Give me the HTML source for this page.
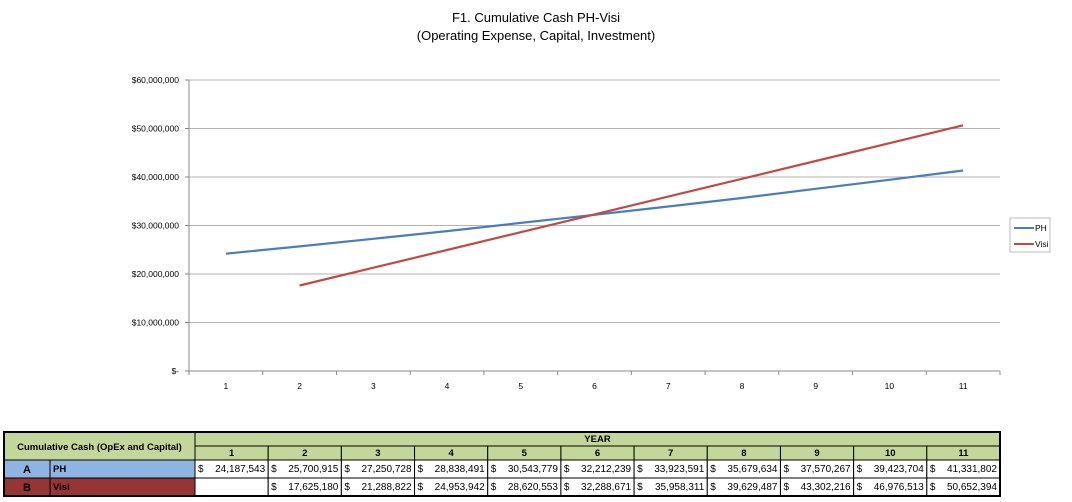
<!DOCTYPE html>
<html><head><meta charset="utf-8"><style>
body{margin:0;background:#fff;}
svg{display:block;font-family:"Liberation Sans",sans-serif;}
</style></head><body>
<svg id="s" width="1072" height="502">
<text x="536" y="22" text-anchor="middle" font-size="13" fill="#000">F1. Cumulative Cash PH-Visi</text>
<text x="536" y="40" text-anchor="middle" font-size="13" fill="#000">(Operating Expense, Capital, Investment)</text>
<g id="grid"></g><g id="axes"></g><g id="lines"></g>
<g>
<rect x="1010" y="218" width="40" height="34" fill="#fff" stroke="#bbb"/>
<line x1="1014" y1="228" x2="1034" y2="228" stroke="#4a7ebb" stroke-width="2"/>
<text x="1035" y="231" font-size="8.5">PH</text>
<line x1="1014" y1="244" x2="1034" y2="244" stroke="#be4b48" stroke-width="2"/>
<text x="1035" y="247" font-size="8.5">Visi</text>
</g>
<g id="table"></g>
</svg>
<script>
const years=[1,2,3,4,5,6,7,8,9,10,11];
const yTicks=[0,10000000,20000000,30000000,40000000,50000000,60000000];
const yTickLabels=["$-","$10,000,000","$20,000,000","$30,000,000","$40,000,000","$50,000,000","$60,000,000"];
const ph=[24187543,25700915,27250728,28838491,30543779,32212239,33923591,35679634,37570267,39423704,41331802];
const visi=[null,17625180,21288822,24953942,28620553,32288671,35958311,39629487,43302216,46976513,50652394];
const phLabels=["24,187,543","25,700,915","27,250,728","28,838,491","30,543,779","32,212,239","33,923,591","35,679,634","37,570,267","39,423,704","41,331,802"];
const visiLabels=["","17,625,180","21,288,822","24,953,942","28,620,553","32,288,671","35,958,311","39,629,487","43,302,216","46,976,513","50,652,394"];
const NS="http://www.w3.org/2000/svg";
const X0=189,X1=1000,Y0=371,Y1=80;
const cw=(X1-X0)/years.length;
const xS=i=>X0+cw*(i+0.5);
const yS=v=>Y0-(v/60000000)*(Y0-Y1);
function mk(t,a,p,txt){const e=document.createElementNS(NS,t);for(const k in a)e.setAttribute(k,a[k]);if(txt!==undefined)e.textContent=txt;p.appendChild(e);return e;}
const grid=document.getElementById('grid'),axes=document.getElementById('axes'),lines=document.getElementById('lines'),tb=document.getElementById('table');
yTicks.forEach((v,i)=>{const y=yS(v);
 if(v>0){const l=mk('line',{x1:X0,y1:y,x2:X1,y2:y,stroke:'#b3b3b3','stroke-width':1},grid);
 
 }
 mk('line',{x1:X0-4,y1:y,x2:X0,y2:y,stroke:'#888'},axes);
 const t=mk('text',{x:X0-10,y:y+3,'text-anchor':'end','font-size':8.5},axes,yTickLabels[i]);
 
 
});
mk('line',{x1:X0,y1:Y1,x2:X0,y2:Y0,stroke:'#888'},axes);
mk('line',{x1:X0,y1:Y0,x2:X1,y2:Y0,stroke:'#888'},axes);
for(let i=0;i<=years.length;i++)mk('line',{x1:X0+cw*i,y1:Y0,x2:X0+cw*i,y2:Y0+4,stroke:'#888'},axes);
years.forEach((yr,i)=>{const t=mk('text',{x:xS(i),y:Y0+18,'text-anchor':'middle','font-size':8.5},axes,yr);
 
 });
function path(arr){let d='';arr.forEach((v,i)=>{if(v==null)return;d+=(d?'L':'M')+xS(i).toFixed(1)+','+yS(v).toFixed(1);});return d;}
const p1=mk('path',{d:path(ph),fill:'none',stroke:'#4a7ebb','stroke-width':2.2},lines);


const p2=mk('path',{d:path(visi),fill:'none',stroke:'#be4b48','stroke-width':2.2},lines);


const TL=4,TA=50,TC=195,TR=1000,r0=432,r1=446,r2=460,r3=478,r4=496;
const tw=(TR-TC)/years.length;
const G='#c4d79b';
mk('rect',{x:TL,y:r0,width:TC-TL,height:r2-r0,fill:G,stroke:'#000'},tb);
mk('text',{x:(TL+TC)/2,y:450,'text-anchor':'middle','font-size':9.5,'font-weight':'bold'},tb,'Cumulative Cash (OpEx and Capital)');
mk('rect',{x:TC,y:r0,width:TR-TC,height:r1-r0,fill:G,stroke:'#000'},tb);
mk('text',{x:(TC+TR)/2,y:442,'text-anchor':'middle','font-size':9.5,'font-weight':'bold'},tb,'YEAR');
years.forEach((yr,i)=>{const x=TC+tw*i;
 mk('rect',{x:x,y:r1,width:tw,height:r2-r1,fill:G,stroke:'#000'},tb);
 mk('text',{x:x+tw/2,y:456,'text-anchor':'middle','font-size':9.5,'font-weight':'bold'},tb,yr);
 mk('rect',{x:x,y:r2,width:tw,height:r3-r2,fill:'#fff',stroke:'#000'},tb);
 mk('rect',{x:x,y:r3,width:tw,height:r4-r3,fill:'#fff',stroke:'#000'},tb);
 mk('text',{x:x+3,y:472,'font-size':10},tb,'$');
 const a=mk('text',{x:x+tw-3,y:472,'text-anchor':'end','font-size':10},tb,phLabels[i]);
 
 
 if(visiLabels[i]){mk('text',{x:x+3,y:490,'font-size':10},tb,'$');
 const b=mk('text',{x:x+tw-3,y:490,'text-anchor':'end','font-size':10},tb,visiLabels[i]);
 
 }
});
mk('rect',{x:TL,y:r2,width:TC-TL,height:r3-r2,fill:'#8db4e2',stroke:'#000'},tb);
mk('rect',{x:TL,y:r3,width:TC-TL,height:r4-r3,fill:'#963634',stroke:'#000'},tb);
mk('line',{x1:TA,y1:r2,x2:TA,y2:r4,stroke:'#000'},tb);
mk('text',{x:(TL+TA)/2,y:473,'text-anchor':'middle','font-size':11,'font-weight':'bold'},tb,'A');
mk('text',{x:TA+3,y:472,'font-size':9.5,'font-weight':'bold'},tb,'PH');
mk('text',{x:(TL+TA)/2,y:491,'text-anchor':'middle','font-size':11,'font-weight':'bold'},tb,'B');
mk('text',{x:TA+3,y:490,'font-size':9.5,'font-weight':'bold'},tb,'Visi');
mk('rect',{x:TL,y:r0,width:TR-TL,height:r4-r0,fill:'none',stroke:'#000','stroke-width':2},tb);
</script>
</body></html>
